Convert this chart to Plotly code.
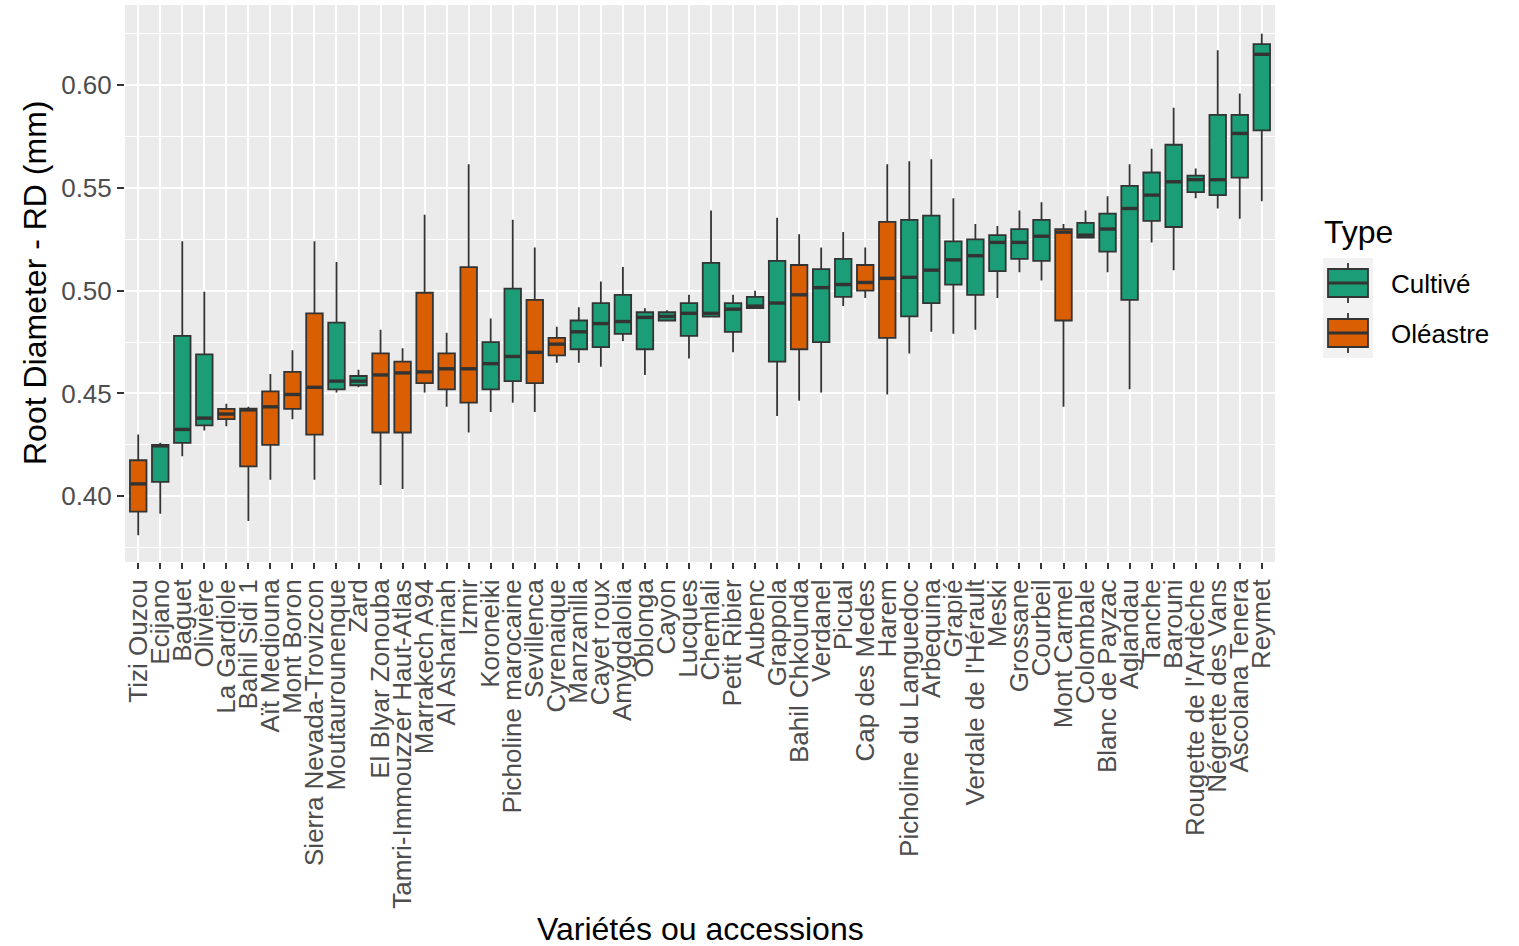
import plotly.graph_objects as go

categories = ["Tizi Ouzou", "Ecijano", "Baguet", "Olivière", "La Gardiole", "Bahil Sidi 1",
              "Aït Mediouna", "Mont Boron", "Sierra Nevada-Trovizcon", "Moutaurounenque", "Zard",
              "El Blyar Zonouba", "Tamri-Immouzzer Haut-Atlas", "Marrakech A94", "Al Asharinah",
              "Izmir", "Koroneiki", "Picholine marocaine", "Sevillenca", "Cyrenaique", "Manzanilla",
              "Cayet roux", "Amygdalolia", "Oblonga", "Cayon", "Lucques", "Chemlali", "Petit Ribier",
              "Aubenc", "Grappola", "Bahil Chkounda", "Verdanel", "Picual", "Cap des Medes", "Harem",
              "Picholine du Languedoc", "Arbequina", "Grapié", "Verdale de l'Hérault", "Meski",
              "Grossane", "Courbeil", "Mont Carmel", "Colombale", "Blanc de Payzac", "Aglandau",
              "Tanche", "Barouni", "Rougette de l'Ardèche", "Négrette des Vans", "Ascolana Tenera",
              "Reymet"]

types = ["O", "C", "C", "C", "O", "O", "O", "O", "O", "C", "C", "O", "O", "O", "O", "O", "C", "C",
         "O", "O", "C", "C", "C", "C", "C", "C", "C", "C", "C", "C", "O", "C", "C", "O", "O", "C",
         "C", "C", "C", "C", "C", "C", "O", "C", "C", "C", "C", "C", "C", "C", "C", "C"]

lower = [0.381, 0.3915, 0.4195, 0.432, 0.434, 0.388, 0.408, 0.4375, 0.408, 0.4505, 0.453, 0.4055,
         0.4035, 0.4505, 0.4435, 0.431, 0.441, 0.4455, 0.441, 0.465, 0.465, 0.463, 0.4755, 0.459,
         0.485, 0.467, 0.4874, 0.470, 0.4915, 0.439, 0.4465, 0.4505, 0.4925, 0.4965, 0.4495, 0.4695,
         0.480, 0.479, 0.481, 0.4965, 0.509, 0.505, 0.4435, 0.5258, 0.509, 0.452, 0.5235, 0.510,
         0.545, 0.540, 0.535, 0.5435]
q1 = [0.3925, 0.407, 0.426, 0.4345, 0.4375, 0.4145, 0.425, 0.4425, 0.430, 0.452, 0.454, 0.431,
      0.431, 0.455, 0.452, 0.4455, 0.452, 0.456, 0.455, 0.4685, 0.4715, 0.4725, 0.479, 0.4715,
      0.4855, 0.478, 0.4874, 0.480, 0.4915, 0.4655, 0.4715, 0.475, 0.497, 0.500, 0.477, 0.4875,
      0.494, 0.503, 0.498, 0.5095, 0.5155, 0.5145, 0.4855, 0.5258, 0.519, 0.4955, 0.534, 0.531,
      0.548, 0.5465, 0.555, 0.578]
median = [0.406, 0.4245, 0.4325, 0.438, 0.440, 0.442, 0.4435, 0.4495, 0.453, 0.456, 0.456, 0.459,
          0.460, 0.4605, 0.462, 0.462, 0.4645, 0.468, 0.470, 0.474, 0.480, 0.484, 0.485, 0.487,
          0.4875, 0.489, 0.489, 0.491, 0.4925, 0.494, 0.498, 0.5015, 0.503, 0.504, 0.506, 0.5065,
          0.510, 0.515, 0.517, 0.5235, 0.5235, 0.5265, 0.5285, 0.527, 0.530, 0.540, 0.5465, 0.553,
          0.554, 0.554, 0.5765, 0.615]
q3 = [0.4175, 0.425, 0.478, 0.469, 0.4425, 0.4426, 0.451, 0.4605, 0.489, 0.4845, 0.4585, 0.4695,
      0.4655, 0.499, 0.4695, 0.5115, 0.475, 0.501, 0.4955, 0.477, 0.4855, 0.494, 0.498, 0.4895,
      0.4895, 0.494, 0.5135, 0.494, 0.497, 0.5145, 0.5125, 0.5105, 0.5155, 0.5125, 0.5335, 0.5345,
      0.5365, 0.524, 0.525, 0.527, 0.530, 0.5345, 0.530, 0.533, 0.5375, 0.551, 0.5575, 0.571,
      0.556, 0.5855, 0.5855, 0.620]
upper = [0.430, 0.426, 0.524, 0.4995, 0.445, 0.4435, 0.4595, 0.471, 0.524, 0.514, 0.4615, 0.481,
         0.472, 0.537, 0.4795, 0.5615, 0.4865, 0.5345, 0.521, 0.4825, 0.492, 0.5045, 0.5115, 0.4915,
         0.4905, 0.498, 0.539, 0.498, 0.500, 0.5355, 0.5275, 0.521, 0.5285, 0.521, 0.5615, 0.563,
         0.564, 0.545, 0.5325, 0.5315, 0.539, 0.543, 0.5325, 0.539, 0.546, 0.5615, 0.569, 0.589,
         0.5595, 0.617, 0.596, 0.625]

type_order = ["C", "O"]
type_names = {"C": "Cultivé", "O": "Oléastre"}
type_colors = {"C": "#1B9E77", "O": "#D95F02"}

FONT = "Liberation Sans, Arial, sans-serif"
OUTLINE = "#333333"
W, H = 1519, 946
ML, MR, MT, MB = 125, 244, 5, 384
PW, PH = W - ML - MR, H - MT - MB


def px(xpix):
    return (xpix - ML) / PW


def py(ypix):
    return 1 - (ypix - MT) / PH


fig = go.Figure()
for t in type_order:
    idx = [i for i, v in enumerate(types) if v == t]
    fig.add_trace(go.Box(
        name=type_names[t],
        x=[categories[i] for i in idx],
        q1=[q1[i] for i in idx],
        median=[median[i] for i in idx],
        q3=[q3[i] for i in idx],
        lowerfence=[lower[i] for i in idx],
        upperfence=[upper[i] for i in idx],
        fillcolor=type_colors[t],
        line=dict(color=OUTLINE, width=1.8),
        whiskerwidth=0,
        width=0.75,
        boxpoints=False,
        hoverinfo="skip",
        showlegend=False,
    ))

shapes = []
# thicker median lines (ggplot fatten)
for i, m in enumerate(median):
    shapes.append(dict(type="line", xref="x", yref="y", x0=i - 0.375, x1=i + 0.375,
                       y0=m, y1=m, line=dict(color=OUTLINE, width=3.4), layer="above"))

# manual legend (ggplot style keys)
annotations = []
key_x0, key_x1 = 1323, 1373
key_h = 50
key_top = 258
for k, t in enumerate(type_order):
    top = key_top + k * key_h
    shapes.append(dict(type="rect", xref="paper", yref="paper", x0=px(key_x0), x1=px(key_x1),
                       y0=py(top + key_h), y1=py(top), fillcolor="#F2F2F2", line=dict(width=0)))
    cx = (key_x0 + key_x1) / 2
    shapes.append(dict(type="line", xref="paper", yref="paper", x0=px(cx), x1=px(cx),
                       y0=py(top + 45), y1=py(top + 5), line=dict(color=OUTLINE, width=1.8)))
    shapes.append(dict(type="rect", xref="paper", yref="paper", x0=px(key_x0 + 5), x1=px(key_x1 - 5),
                       y0=py(top + 39), y1=py(top + 11), fillcolor=type_colors[t],
                       line=dict(color=OUTLINE, width=1.8)))
    shapes.append(dict(type="line", xref="paper", yref="paper", x0=px(key_x0 + 5), x1=px(key_x1 - 5),
                       y0=py(top + 25), y1=py(top + 25), line=dict(color=OUTLINE, width=3)))
    annotations.append(dict(text=type_names[t], xref="paper", yref="paper", x=px(1389),
                            y=py(top + 26), xanchor="left", yanchor="middle", showarrow=False,
                            font=dict(size=26, color="black", family=FONT)))
annotations.append(dict(text="Type", xref="paper", yref="paper", x=px(1322), y=py(232),
                        xanchor="left", yanchor="middle", showarrow=False,
                        font=dict(size=32, color="black", family=FONT)))
annotations.append(dict(text="Variétés ou accessions", xref="paper", yref="paper", x=0.5,
                        y=py(929), xanchor="center", yanchor="middle", showarrow=False,
                        font=dict(size=32, color="black", family=FONT)))
annotations.append(dict(text="Root Diameter - RD (mm)", xref="paper", yref="paper", x=px(35),
                        y=py(283), xanchor="center", yanchor="middle", showarrow=False,
                        textangle=-90, font=dict(size=32, color="black", family=FONT)))

fig.update_layout(
    width=W, height=H,
    margin=dict(l=ML, r=MR, t=MT, b=MB),
    paper_bgcolor="white",
    plot_bgcolor="#EBEBEB",
    boxmode="overlay",
    font=dict(family=FONT, color="black"),
    showlegend=False,
    shapes=shapes,
    annotations=annotations,
)

fig.update_xaxes(
    type="category", categoryorder="array", categoryarray=categories,
    tickmode="array", tickvals=categories, ticktext=categories,
    range=[-0.6, len(categories) - 0.4],
    tickangle=-90, tickfont=dict(size=26, color="#4D4D4D", family=FONT),
    showgrid=True, gridcolor="white", gridwidth=2,
    ticks="outside", ticklen=6, tickwidth=2, tickcolor=OUTLINE,
    showline=False, zeroline=False, fixedrange=True,
)
fig.update_yaxes(
    range=[0.368, 0.639], tick0=0.40, dtick=0.05, tickformat=".2f",
    tickfont=dict(size=26, color="#4D4D4D", family=FONT),
    showgrid=True, gridcolor="white", gridwidth=2,
    minor=dict(dtick=0.025, tick0=0.375, showgrid=True, gridcolor="white", gridwidth=1, ticks=""),
    ticks="outside", ticklen=7, tickwidth=2, tickcolor=OUTLINE,
    showline=False, zeroline=False, fixedrange=True,
)

fig.write_html("out.html", config={"displayModeBar": False},
               post_script="document.body.style.margin='0px';")
